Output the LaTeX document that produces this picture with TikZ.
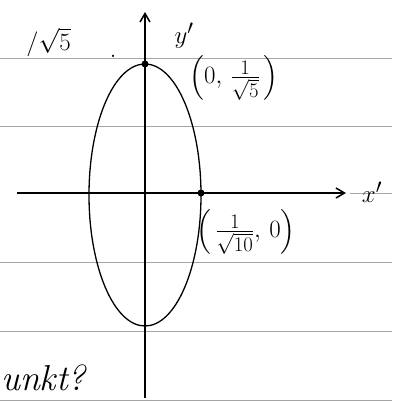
\documentclass[tikz,border=0pt]{standalone}
\usepackage{amsmath}
\usetikzlibrary{arrows.meta}

\begin{document}
\begin{tikzpicture}[
    x=1pt, y=-1pt,
    ruled/.style={draw=black!35, line width=0.8pt},
    ink/.style={draw=black, line width=1.3pt},
    axis/.style={-{Straight Barb[length=3mm, width=3.5mm]}, line width=1.5pt},
    lbl/.style={inner sep=1pt, font=\fontsize{28}{32}\selectfont},
    dot/.style={circle, fill=black, inner sep=0pt, minimum size=7pt}
]
    \useasboundingbox (0,0) rectangle (392,402);

    % notebook lines
    \foreach \yy in {58,126,262,331,400}
        \draw[ruled] (0,\yy) -- (392,\yy);
    \draw[ruled] (350,193) -- (392,193);

    \coordinate (xfoot) at (17,193);
    \coordinate (xtip) at (346,193);
    \coordinate (yfoot) at (145,398);
    \coordinate (ytip) at (145,12);
    \coordinate (ec) at (145,195);

    % ellipse
    \draw[ink] (ec) ellipse [x radius=56pt, y radius=131pt];

    \draw[axis] (xfoot) -- (xtip);
    \draw[axis] (yfoot) -- (ytip);

    \node[dot] (top) at (145,64) {};
    \node[dot] (right) at (201,193) {};

    \node[lbl] (xlab) at (372,192) {$x'$};
    \node[lbl] (ylab) at (184,36) {$y'$};
    \node[lbl] (topval) at (234,78) {$\Bigl(0,\,\frac{1}{\sqrt{5}}\,\Bigr)$};
    \node[lbl] (rightval) at (246,232) {$\Bigl(\,\frac{1}{\sqrt{10}},\,0\Bigr)$};
    \node[lbl, anchor=east] (root) at (72,42) {$/\sqrt{5}$};
    \node[lbl] (stop) at (113,56) {.};
    \node[lbl, font=\fontsize{36}{40}\selectfont\itshape, anchor=west] (punkt) at (0,378) {unkt?};
\end{tikzpicture}
\end{document}
